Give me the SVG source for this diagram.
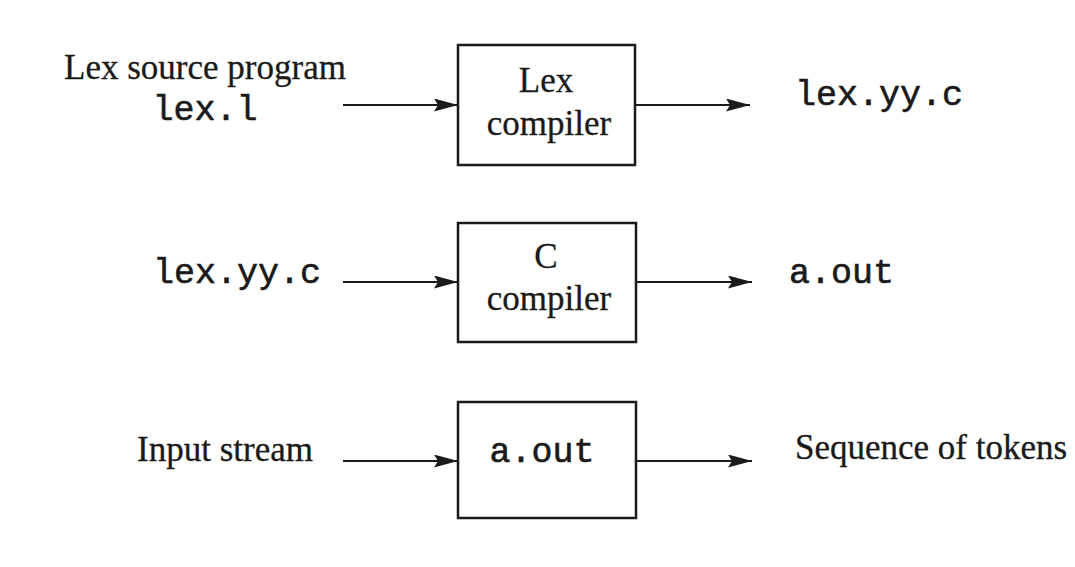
<svg xmlns="http://www.w3.org/2000/svg" width="1075" height="567" viewBox="0 0 1075 567">
  <style>
    .serif { font-family: "Liberation Serif", "Times New Roman", serif; font-size: 35px; fill: #1a1a1a; stroke: #1a1a1a; stroke-width: 0.3; }
    .mono { font-family: "Liberation Mono", "Courier New", monospace; font-size: 35px; fill: #1a1a1a; stroke: #1a1a1a; stroke-width: 0.6; }
    .box { fill: #ffffff; stroke: #1a1a1a; stroke-width: 2.5; }
    .edge { stroke: #1a1a1a; stroke-width: 2; fill: none; marker-end: url(#dart); }
  </style>
  <defs>
    <marker id="dart" markerUnits="userSpaceOnUse" markerWidth="26" markerHeight="14" refX="24" refY="6.5" orient="auto">
      <path d="M0,0 L24,6.5 L0,13 L4,6.5 Z" fill="#1a1a1a"/>
    </marker>
  </defs>
  <rect width="1075" height="567" fill="#ffffff"/>

  <!-- row 1: Lex compiler -->
  <g id="lex-source">
    <text class="serif" x="205" y="79" text-anchor="middle">Lex source program</text>
    <text class="mono" x="205" y="120" text-anchor="middle">lex.l</text>
  </g>
  <g id="lex-compiler">
    <rect class="box" x="458" y="45" width="177" height="120"/>
    <text class="serif" x="546" y="92" text-anchor="middle">Lex</text>
    <text class="serif" x="549" y="135" text-anchor="middle">compiler</text>
  </g>
  <g id="lex-output">
    <text class="mono" x="795" y="105">lex.yy.c</text>
  </g>

  <!-- row 2: C compiler -->
  <g id="c-source">
    <text class="mono" x="237" y="283" text-anchor="middle">lex.yy.c</text>
  </g>
  <g id="c-compiler">
    <rect class="box" x="458" y="223" width="178" height="119"/>
    <text class="serif" x="546" y="268" text-anchor="middle">C</text>
    <text class="serif" x="549" y="310" text-anchor="middle">compiler</text>
  </g>
  <g id="c-output">
    <text class="mono" x="789" y="283">a.out</text>
  </g>

  <!-- row 3: running a.out -->
  <g id="input-stream">
    <text class="serif" x="225" y="461" text-anchor="middle">Input stream</text>
  </g>
  <g id="a-out">
    <rect class="box" x="458" y="402" width="178" height="116"/>
    <text class="mono" x="542" y="462" text-anchor="middle">a.out</text>
  </g>
  <g id="tokens">
    <text class="serif" x="795" y="459">Sequence of tokens</text>
  </g>

  <g id="connectors">
    <line class="edge" x1="343" y1="105" x2="458" y2="105"/>
    <line class="edge" x1="635" y1="105" x2="750" y2="105"/>
    <line class="edge" x1="343" y1="282" x2="458" y2="282"/>
    <line class="edge" x1="636" y1="282" x2="752" y2="282"/>
    <line class="edge" x1="343" y1="461" x2="458" y2="461"/>
    <line class="edge" x1="636" y1="461" x2="752" y2="461"/>
  </g>
</svg>
